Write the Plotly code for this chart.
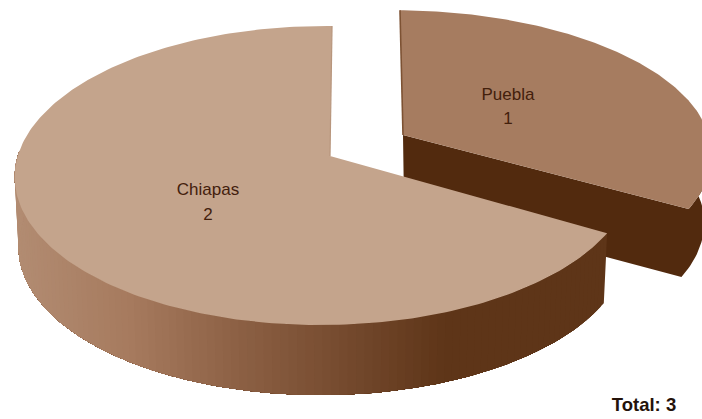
import math
import plotly.graph_objects as go

# Pie data
regions = ["Puebla", "Chiapas"]
cases = [1, 2]
total_label = "Total: " + str(sum(cases))

# Colours
top_colors = ["#A67C60", "#C4A48C"]
edge_colors = ["#7D5233", "#B8967D"]
puebla_side = "#522A0E"
side_stops = [(15, (178, 140, 114)), (130, (166, 122, 94)), (230, (142, 98, 70)),
              (340, (118, 75, 47)), (445, (94, 53, 24)), (702, (94, 53, 24))]
text_color = "#43200C"

# Projection of the tilted disc: each slice has its own hub on the canvas
FAR_NEAR = 0.1304
SIDEWAYS = -0.02
hubs = [(403, 135), (330, 156)]
radius_x = [312, 306]
radius_y = [141, 147]
skew = [3.4, -2.3]
depth = [68, 70]
shrink = [0.975, 0.988]
label_pos = [(508, 96, 120), (208, 191, 216)]


def rim(i, deg, lower=False):
    """Project a rim point, deg measured clockwise from twelve o'clock."""
    a = math.radians(deg)
    u, v = math.sin(a), -math.cos(a)
    w = 1 - FAR_NEAR * v - SIDEWAYS * u
    dx = (radius_x[i] * u + skew[i] * v) / w
    dy = radius_y[i] * v / w
    if lower:
        return hubs[i][0] + dx * shrink[i], hubs[i][1] + dy + depth[i]
    return hubs[i][0] + dx, hubs[i][1] + dy


def hub_lower(i):
    return hubs[i][0] + 1, hubs[i][1] + depth[i]


def arc(i, start, end, steps, lower=False):
    return [rim(i, start + (end - start) * k / steps, lower) for k in range(steps + 1)]


def side_color(x):
    for (x0, c0), (x1, c1) in zip(side_stops, side_stops[1:]):
        if x <= x1:
            f = max(0.0, (x - x0) / (x1 - x0))
            return "rgb(%d,%d,%d)" % tuple(round(p + (q - p) * f) for p, q in zip(c0, c1))
    return "rgb(94,53,24)"


def polygon(points, color):
    xs, ys = zip(*points)
    return go.Scatter(x=list(xs) + [xs[0]], y=list(ys) + [ys[0]], mode="lines", fill="toself",
                      fillcolor=color, line=dict(color=color, width=0), hoverinfo="skip",
                      showlegend=False)


# Slice spans follow the values, clockwise from the top
spans = []
running = 0
for value in cases:
    spans.append((running * 360 / sum(cases), (running + value) * 360 / sum(cases)))
    running += value

fig = go.Figure()

# Puebla: cut face and outer wall as a single dark shape, then the top and thin far edge
s, e = spans[0]
fig.add_trace(polygon([hubs[0]] + arc(0, e, 85, 30) + arc(0, 85, e, 30, True) + [hub_lower(0)], puebla_side))
fig.add_trace(polygon([hubs[0]] + arc(0, s, e, 160), top_colors[0]))
fig.add_trace(go.Scatter(x=[rim(0, s)[0], hubs[0][0]], y=[rim(0, s)[1], hubs[0][1]], mode="lines",
                         line=dict(color=edge_colors[0], width=1.6), hoverinfo="skip", showlegend=False))

# Chiapas: outer wall painted in overlapping layers so no seams show, then the top
s, e = spans[1]
layers = 110
wall_end = 272
for k in range(layers):
    a0 = s + (wall_end - s) * k / layers
    steps = max(2, layers - k)
    layer = arc(1, a0, wall_end, steps) + arc(1, wall_end, a0, steps, True)
    mid = a0 + (wall_end - s) / layers / 2
    fig.add_trace(polygon(layer, side_color(rim(1, mid)[0])))
fig.add_trace(polygon([hubs[1]] + arc(1, s, e, 240), top_colors[1]))
fig.add_trace(go.Scatter(x=[rim(1, e)[0], hubs[1][0]], y=[rim(1, e)[1], hubs[1][1]], mode="lines",
                         line=dict(color=edge_colors[1], width=1.2), hoverinfo="skip", showlegend=False))

# Labels: region name with its count underneath
label_font = "Liberation Sans, Arial, sans-serif"
for i, name in enumerate(regions):
    x, y_name, y_value = label_pos[i]
    fig.add_trace(go.Scatter(x=[x, x], y=[y_name, y_value], mode="text", text=[name, str(cases[i])],
                             textposition="middle center", hoverinfo="skip", showlegend=False,
                             textfont=dict(family=label_font, size=17, color=text_color)))

fig.add_trace(go.Scatter(x=[644], y=[406], mode="text", text=["<b>" + total_label + "</b>"],
                         textposition="middle center", hoverinfo="skip", showlegend=False,
                         textfont=dict(family=label_font, size=18.5, color="#24120A")))

fig.update_layout(width=702, height=419, margin=dict(l=0, r=0, t=0, b=0),
                  paper_bgcolor="white", plot_bgcolor="white", showlegend=False,
                  xaxis=dict(range=[0, 702], visible=False, fixedrange=True),
                  yaxis=dict(range=[419, 0], visible=False, fixedrange=True))

fig.write_html("out.html", config=dict(displayModeBar=False))
